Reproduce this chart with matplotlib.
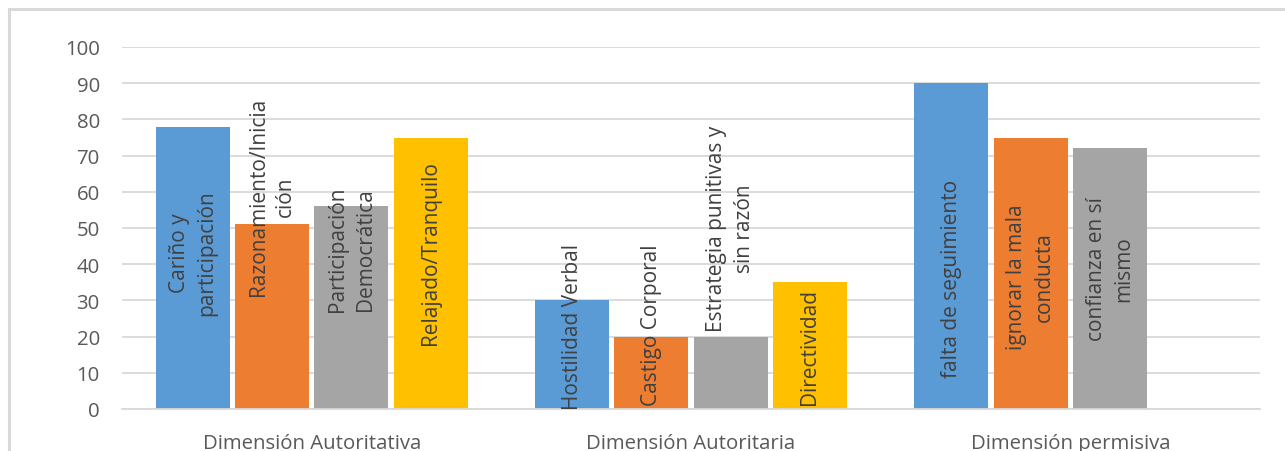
import matplotlib
matplotlib.use('Agg')
import matplotlib.pyplot as plt
import numpy as np
from matplotlib.patches import Rectangle

plt.rcParams['font.family'] = ['Open Sans', 'DejaVu Sans']

categories = ['Dimensión Autoritativa', 'Dimensión Autoritaria', 'Dimensión permisiva']
# one list per bar slot (blue, orange, gray, gold); None = no bar
values = [
    [78, 30, 90],
    [51, 20, 75],
    [56, 20, 72],
    [75, 35, None],
]
bar_labels = [
    ['Cariño y\nparticipación', 'Hostilidad Verbal', 'falta de seguimiento'],
    ['Razonamiento/Inicia\nción', 'Castigo Corporal', 'ignorar la mala\nconducta'],
    ['Participación\nDemocrática', 'Estrategia punitivas y\nsin razón', 'confianza en sí\nmismo'],
    ['Relajado/Tranquilo', 'Directividad', None],
]
# vertical centre of each in-bar label (value units)
label_y = [
    [43.2, 23.0, 36.3],
    [58.8, 23.3, 36.6],
    [44.3, 50.1, 38.9],
    [43.4, 17.3, None],
]
colors = ['#5B9BD5', '#ED7D31', '#A5A5A5', '#FFC000']

W, H = 1285, 452
fig = plt.figure(figsize=(W / 100, H / 100), dpi=100)
ax = fig.add_axes([122 / W, 1 - 410 / H, 1138 / W, 362 / H])

# chart frame (cropped at right and bottom)
fig.patches.append(Rectangle((8.5 / W, -0.2), 1.2, 1.2 - 9.5 / H,
                             transform=fig.transFigure, fill=False,
                             edgecolor='#D9D9D9', linewidth=2.2, zorder=0))

x = np.arange(len(categories))
step = 0.209
width = 0.195
for k in range(4):
    for i in range(len(categories)):
        v = values[k][i]
        if v is None:
            continue
        xp = x[i] + (k - 1.5) * step
        ax.bar(xp, v, width=width, color=colors[k], zorder=2)
        if bar_labels[k][i]:
            ax.text(xp, label_y[k][i], bar_labels[k][i], rotation=90,
                    ha='center', va='center', multialignment='center',
                    fontsize=15, color='#404040', zorder=3, linespacing=1.4)

ax.set_xlim(-0.5, 2.5)
ax.set_ylim(0, 100)
ax.set_yticks(range(0, 101, 10))
ax.set_xticks(x)
ax.set_xticklabels(categories)
ax.yaxis.grid(True, color='#D9D9D9', linewidth=1.3, zorder=0)
ax.set_axisbelow(True)
for s in ['top', 'right', 'left']:
    ax.spines[s].set_visible(False)
ax.spines['bottom'].set_color('#D9D9D9')
ax.spines['bottom'].set_linewidth(1.3)
ax.tick_params(axis='both', length=0, labelsize=14.7, labelcolor='#595959')
ax.tick_params(axis='y', pad=16)
ax.tick_params(axis='x', pad=17)

fig.savefig('out.png', dpi=100)
